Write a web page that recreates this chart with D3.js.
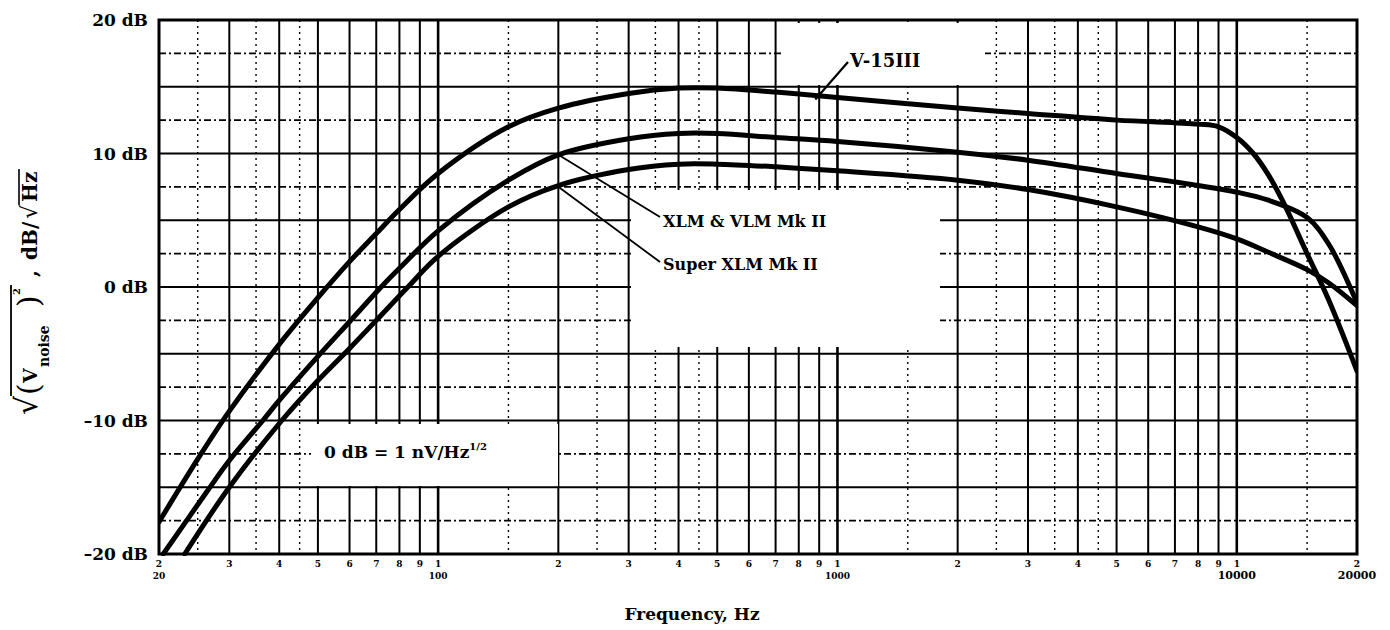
<!DOCTYPE html>
<html><head><meta charset="utf-8">
<script src="https://cdn.jsdelivr.net/npm/d3@7"></script>
<style>
html,body{margin:0;padding:0;background:#fff;}
svg{display:block;}
text{font-family:"DejaVu Serif",serif;fill:#000;}
</style></head>
<body>
<script>
// ---- data ----
const yTicks = [20, 10, 0, -10, -20];
const decadeLabels = [20, 100, 1000, 10000, 20000];
const digitLabels = [2,3,4,5,6,7,8,9];

const v15Freq = [20,25,30,40,50,60,70,80,100,150,200,300,400,500,700,1000,2000,3000,5000,8000,9000,10000,11000,12000,13000,15000,17000,20000];
const v15dB   = [-17.6,-12.9,-9.3,-4.3,-0.8,1.9,4.0,5.8,8.5,12.0,13.4,14.5,14.9,14.9,14.6,14.2,13.4,13.0,12.5,12.2,12.0,11.2,10.0,8.4,6.5,2.5,-1.0,-6.3];

const xlmFreq = [20.5,26.4,30,36.4,40,50,60,72,80,100,150,200,300,400,500,700,1000,2000,3000,5000,8000,10000,12000,15000,17000,20000];
const xlmdB   = [-20,-15.3,-13.0,-10,-8.5,-5.2,-2.6,0,1.4,4.2,8.0,9.9,11.1,11.5,11.5,11.2,10.9,10.1,9.5,8.5,7.6,7.1,6.5,5.2,3.2,-1.2];

const supFreq = [23.2,30,40.6,50,60,70,84,100,150,200,300,400,500,700,1000,2000,3000,5000,8000,10000,12000,15000,17000,20000];
const supdB   = [-20,-15,-10,-7.0,-4.6,-2.5,0,2.3,6.0,7.6,8.8,9.2,9.2,9.0,8.7,8.0,7.3,6.0,4.5,3.6,2.6,1.3,0.3,-1.4];

const seriesNames = ["V-15III", "XLM & VLM Mk II", "Super XLM Mk II"];

// ---- chart ----
const W = 1390, H = 630;
const svg = d3.select("body").append("svg").attr("width", W).attr("height", H);

const x = d3.scaleLog().domain([20, 20000]).range([159, 1357]);
const y = d3.scaleLinear().domain([-20, 20]).range([554, 20]);

// grid frequencies
const majorF = [], halfF = [];
for (let d = 10; d <= 10000; d *= 10) {
  for (let m = 1; m <= 9; m++) {
    const f = m * d;
    if (f >= 20 && f <= 20000) majorF.push(f);
    const h = (m + 0.5) * d;
    if (m <= 4 && h > 20 && h < 20000) halfF.push(h);
  }
}
majorF.push(20000);

const grid = svg.append("g");
grid.selectAll("line.hh").data(d3.range(-17.5, 20, 5)).join("line")
  .attr("x1", x(20)).attr("x2", x(20000))
  .attr("y1", d => y(d)).attr("y2", d => y(d))
  .attr("stroke", "#000").attr("stroke-width", 1.6).attr("stroke-dasharray", "7,3,2,3");
grid.selectAll("line.hv").data(halfF).join("line")
  .attr("x1", d => x(d)).attr("x2", d => x(d))
  .attr("y1", y(20)).attr("y2", y(-20))
  .attr("stroke", "#000").attr("stroke-width", 1.4).attr("stroke-dasharray", "2,4");
grid.selectAll("line.h").data(d3.range(-20, 20.1, 5)).join("line")
  .attr("x1", x(20)).attr("x2", x(20000))
  .attr("y1", d => y(d)).attr("y2", d => y(d))
  .attr("stroke", "#000").attr("stroke-width", 2.2);
grid.selectAll("line.v").data(majorF).join("line")
  .attr("x1", d => x(d)).attr("x2", d => x(d))
  .attr("y1", y(20)).attr("y2", y(-20))
  .attr("stroke", "#000").attr("stroke-width", d => (d === 100 || d === 1000 || d === 10000) ? 2.6 : 2);
svg.append("rect").attr("x", x(20)).attr("y", y(20))
  .attr("width", x(20000) - x(20)).attr("height", y(-20) - y(20))
  .attr("fill", "none").attr("stroke", "#000").attr("stroke-width", 3);

// white label boxes
const boxes = [
  [783, 23, 202, 62],
  [631, 190, 309, 157],
  [311, 424, 247, 62]
];
svg.append("g").selectAll("rect").data(boxes).join("rect")
  .attr("x", d => d[0]).attr("y", d => d[1]).attr("width", d => d[2]).attr("height", d => d[3])
  .attr("fill", "#fff");

// curves
svg.append("clipPath").attr("id", "pc").append("rect")
  .attr("x", x(20)).attr("y", y(20)).attr("width", x(20000) - x(20)).attr("height", y(-20) - y(20) + 2);
const line = d3.line().x(d => x(d[0])).y(d => y(d[1])).curve(d3.curveCatmullRom.alpha(0.5));
const series = [
  d3.zip(v15Freq, v15dB),
  d3.zip(xlmFreq, xlmdB),
  d3.zip(supFreq, supdB)
];
svg.append("g").attr("clip-path", "url(#pc)").selectAll("path").data(series).join("path")
  .attr("d", line).attr("fill", "none").attr("stroke", "#000")
  .attr("stroke-width", 5).attr("stroke-linejoin", "round").attr("stroke-linecap", "round");

// y tick labels
svg.append("g").selectAll("text").data(yTicks).join("text")
  .attr("x", 148).attr("y", d => y(d) + 6)
  .attr("text-anchor", "end").attr("font-size", 17).attr("font-weight", "bold")
  .text(d => (d < 0 ? "\u2013" + Math.abs(d) : d) + " dB");

// x digit labels
const digitData = [];
for (let d = 10; d <= 10000; d *= 10) {
  for (const m of digitLabels) {
    const f = m * d;
    if (f > 20 && f < 20000) digitData.push([f, m]);
  }
  if (d >= 100) digitData.push([d, 1]);
}
digitData.push([20, 2]); digitData.push([20000, 2]);
svg.append("g").selectAll("text").data(digitData).join("text")
  .attr("x", d => x(d[0])).attr("y", 567)
  .attr("text-anchor", "middle").attr("font-size", 9).attr("font-weight", "bold")
  .text(d => d[1]);
svg.append("g").selectAll("text").data(decadeLabels).join("text")
  .attr("x", d => x(d)).attr("y", 579)
  .attr("text-anchor", "middle").attr("font-size", d => d >= 10000 ? 11 : 9).attr("font-weight", "bold")
  .text(d => d);

// axis titles
svg.append("text").attr("x", 692).attr("y", 620).attr("text-anchor", "middle")
  .attr("font-size", 17).attr("font-weight", "bold").text("Frequency, Hz");

const yt = svg.append("g").attr("transform", "translate(37,413) rotate(-90)");
yt.append("text").attr("x", -2).attr("y", 0).attr("font-size", 30).text("\u221A");
yt.append("line").attr("x1", 17).attr("x2", 128).attr("y1", -26).attr("y2", -26)
  .attr("stroke", "#000").attr("stroke-width", 1.8);
yt.append("text").attr("x", 18).attr("y", 2).attr("font-size", 30).text("(");
yt.append("text").attr("x", 30).attr("y", 0).attr("font-size", 19).attr("font-weight", "bold").text("V");
yt.append("text").attr("x", 46).attr("y", 12).attr("font-size", 14).attr("font-weight", "bold").text("noise");
yt.append("text").attr("x", 106).attr("y", 2).attr("font-size", 30).text(")");
yt.append("text").attr("x", 118).attr("y", -17).attr("font-size", 10).attr("font-weight", "bold").text("2");
yt.append("text").attr("x", 136).attr("y", 0).attr("font-size", 20).attr("font-weight", "bold").text(",");
yt.append("text").attr("x", 153).attr("y", 0).attr("font-size", 20).attr("font-weight", "bold").text("dB/");
yt.append("text").attr("x", 194).attr("y", 0).attr("font-size", 22).text("\u221A");
yt.append("text").attr("x", 211).attr("y", 0).attr("font-size", 20).attr("font-weight", "bold").text("Hz");
yt.append("line").attr("x1", 208).attr("x2", 244).attr("y1", -18).attr("y2", -18)
  .attr("stroke", "#000").attr("stroke-width", 1.6);

// series labels with leaders
const ann = svg.append("g");
ann.append("text").attr("x", 850).attr("y", 67).attr("font-size", 18).attr("font-weight", "bold").text(seriesNames[0]);
ann.append("line").attr("x1", 848).attr("y1", 62).attr("x2", x(880)).attr("y2", y(14.2) + 2)
  .attr("stroke", "#000").attr("stroke-width", 2.2);
ann.append("text").attr("x", 663).attr("y", 227).attr("font-size", 16).attr("font-weight", "bold").text(seriesNames[1]);
ann.append("line").attr("x1", 660).attr("y1", 217).attr("x2", x(200)).attr("y2", y(9.9))
  .attr("stroke", "#000").attr("stroke-width", 1.8);
ann.append("text").attr("x", 663).attr("y", 270).attr("font-size", 16).attr("font-weight", "bold").text(seriesNames[2]);
ann.append("line").attr("x1", 660).attr("y1", 262).attr("x2", x(198)).attr("y2", y(7.6))
  .attr("stroke", "#000").attr("stroke-width", 1.8);

const note = svg.append("text").attr("x", 324).attr("y", 458).attr("font-size", 17).attr("font-weight", "bold");
note.append("tspan").text("0 dB = 1 nV/Hz");
note.append("tspan").attr("font-size", 10).attr("dy", -8).text("1/2");
</script>
</body></html>
